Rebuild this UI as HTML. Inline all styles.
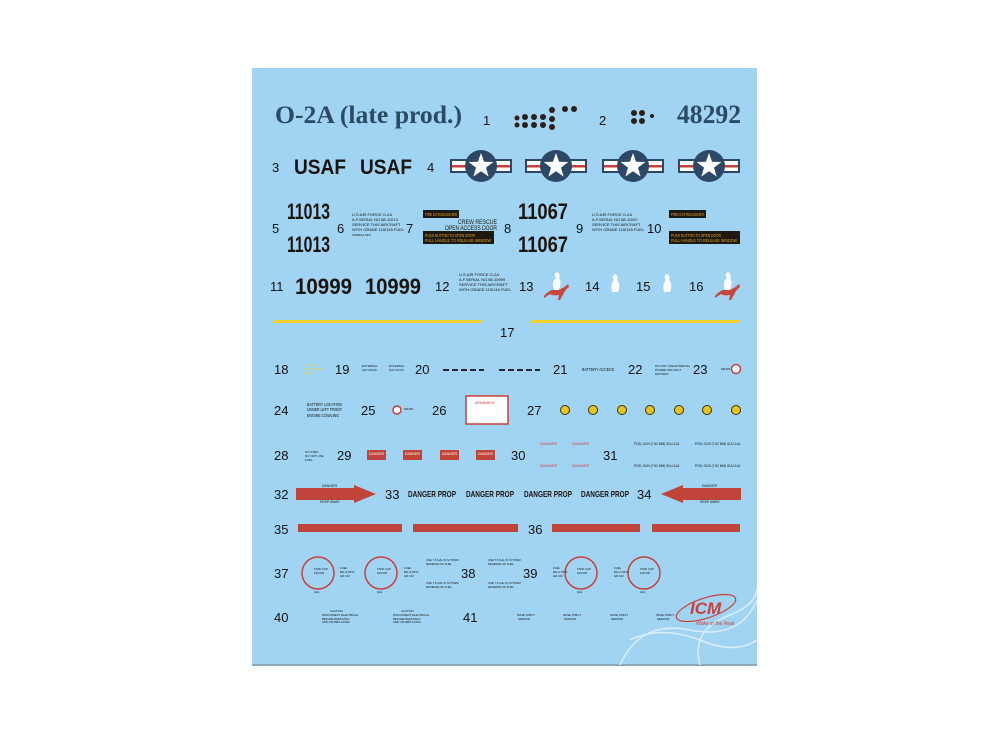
<!DOCTYPE html>
<html><head><meta charset="utf-8"><style>
html,body{margin:0;padding:0;background:#fff;width:1000px;height:750px;overflow:hidden}
svg{display:block}
</style></head><body>
<svg width="1000" height="750" viewBox="0 0 1000 750" xmlns="http://www.w3.org/2000/svg" font-family="Liberation Sans, sans-serif">
<defs>
<g id="roundel">
<rect x="-31" y="-7" width="62" height="14" fill="#2d4866"/>
<rect x="-29" y="-5" width="58" height="10" fill="#fff"/>
<rect x="-29" y="-1" width="58" height="2.5" fill="#c9403a"/>
<circle r="16" fill="#2d4866"/>
<polygon points="0,-13 3.1,-4.2 12.4,-4 5,1.6 7.6,10.5 0,5.2 -7.6,10.5 -5,1.6 -12.4,-4 -3.1,-4.2" fill="#fff"/>
</g>
<g id="kanga">
<path d="M-12,8 Q-6,0 2,2 Q8,0 12,-4 L13,-1 Q9,2 8,5 L4,12 L2,12 L3,7 Q-3,8 -6,6 L-12,10 Z" fill="#c9473c"/>
<path d="M-2,2 Q-5,-6 0,-10 Q-3,-14 1,-16 Q5,-14 3,-10 Q6,-6 3,2 Z" fill="#fff"/>
</g>
<g id="arrow">
<rect x="0" y="-6" width="60" height="12" fill="#c1443a"/>
<polygon points="58,-9 80,0 58,9" fill="#c1443a"/>
</g>
</defs>
<rect x="252" y="68" width="505" height="597" fill="#a0d4f2"/>
<rect x="252" y="664" width="505" height="2" fill="#8aaabb"/>
<g fill="none" stroke="#e2f1fb" stroke-width="1.5" opacity="0.9">
<path d="M620,665 Q640,620 690,630 Q740,640 757,600"/>
<path d="M700,665 Q690,630 730,615 Q755,605 757,590"/>
<path d="M630,640 Q660,625 700,640 Q735,655 757,640"/>
</g>
<text x="275" y="123" font-family="Liberation Serif, serif" font-weight="bold" font-size="25" fill="#2b4a66" textLength="187" lengthAdjust="spacingAndGlyphs">O-2A (late prod.)</text>
<text x="483" y="125" font-size="13" fill="#111">1</text>
<g fill="#2a1f1a">
<circle cx="517" cy="118" r="2.5"/><circle cx="525" cy="117" r="3"/><circle cx="534" cy="117" r="3"/><circle cx="543" cy="117" r="3"/>
<circle cx="517" cy="125" r="2.5"/><circle cx="525" cy="125" r="3"/><circle cx="534" cy="125" r="3"/><circle cx="543" cy="125" r="3"/><circle cx="552" cy="127" r="3"/>
<circle cx="552" cy="110" r="3"/><circle cx="552" cy="119" r="3"/><circle cx="565" cy="109" r="3"/><circle cx="574" cy="109" r="3"/>
<circle cx="634" cy="113" r="3"/><circle cx="642" cy="113" r="3"/><circle cx="634" cy="121" r="3"/><circle cx="642" cy="121" r="3"/><circle cx="652" cy="116" r="2"/>
</g>
<text x="599" y="125" font-size="13" fill="#111">2</text>
<text x="677" y="123" font-family="Liberation Serif, serif" font-weight="bold" font-size="26" fill="#2b4a66" textLength="64" lengthAdjust="spacingAndGlyphs">48292</text>
<text x="272" y="172" font-size="13" fill="#111">3</text>
<text x="294" y="174" font-size="21" font-weight="bold" fill="#1a1410" textLength="52" lengthAdjust="spacingAndGlyphs">USAF</text>
<text x="360" y="174" font-size="21" font-weight="bold" fill="#1a1410" textLength="52" lengthAdjust="spacingAndGlyphs">USAF</text>
<text x="427" y="172" font-size="13" fill="#111">4</text>
<use href="#roundel" x="481" y="166"/><use href="#roundel" x="556" y="166"/><use href="#roundel" x="633" y="166"/><use href="#roundel" x="709" y="166"/>
<g font-size="13" fill="#111">
<text x="272" y="233">5</text><text x="337" y="233">6</text><text x="406" y="233">7</text><text x="504" y="233">8</text><text x="576" y="233">9</text><text x="647" y="233">10</text>
</g>
<g font-size="22" font-weight="bold" fill="#1a1410">
<text x="287" y="219" textLength="43" lengthAdjust="spacingAndGlyphs">11013</text><text x="287" y="252" textLength="43" lengthAdjust="spacingAndGlyphs">11013</text>
<text x="518" y="219" textLength="50" lengthAdjust="spacingAndGlyphs">11067</text><text x="518" y="252" textLength="50" lengthAdjust="spacingAndGlyphs">11067</text>
</g>
<g font-size="4" fill="#111">
<text x="352" y="216">U.S.AIR FORCE O-2A</text><text x="352" y="221">A.F.SERIAL NO.68-11013</text><text x="352" y="226">SERVICE THIS AIRCRAFT</text><text x="352" y="231">WITH GRADE 115/145 FUEL</text><text x="352" y="236" font-size="2.5">INTERNAL INFO</text>
<text x="592" y="216">U.S.AIR FORCE O-2A</text><text x="592" y="221">A.F.SERIAL NO.68-11067</text><text x="592" y="226">SERVICE THIS AIRCRAFT</text><text x="592" y="231">WITH GRADE 115/145 FUEL</text>
<text x="459" y="276">U.S.AIR FORCE O-2A</text><text x="459" y="281">A.F.SERIAL NO.68-10999</text><text x="459" y="286">SERVICE THIS AIRCRAFT</text><text x="459" y="291">WITH GRADE 115/145 FUEL</text>
</g>
<rect x="423" y="210" width="36" height="8" fill="#1e1a12"/><text x="425" y="216" font-size="4.5" fill="#e0a020" textLength="32" lengthAdjust="spacingAndGlyphs">FIRE EXTINGUISHER</text>
<text x="458" y="224" font-size="6.5" fill="#111" textLength="39" lengthAdjust="spacingAndGlyphs">CREW RESCUE</text><text x="445" y="230" font-size="6.5" fill="#111" textLength="52" lengthAdjust="spacingAndGlyphs">OPEN ACCESS DOOR</text>
<rect x="423" y="231" width="71" height="13" fill="#1e1a12"/><text x="425" y="237" font-size="4.5" fill="#e0a020" textLength="50" lengthAdjust="spacingAndGlyphs">PUSH BUTTON TO OPEN DOOR</text><text x="425" y="242" font-size="4.5" fill="#e0a020" textLength="66" lengthAdjust="spacingAndGlyphs">PULL HANDLE TO RELEASE WINDOW</text>
<rect x="669" y="210" width="37" height="8" fill="#1e1a12"/><text x="671" y="216" font-size="4.5" fill="#e0a020" textLength="33" lengthAdjust="spacingAndGlyphs">FIRE EXTINGUISHER</text>
<rect x="669" y="231" width="71" height="13" fill="#1e1a12"/><text x="671" y="237" font-size="4.5" fill="#e0a020" textLength="50" lengthAdjust="spacingAndGlyphs">PUSH BUTTON TO OPEN DOOR</text><text x="671" y="242" font-size="4.5" fill="#e0a020" textLength="66" lengthAdjust="spacingAndGlyphs">PULL HANDLE TO RELEASE WINDOW</text>
<g font-size="13" fill="#111">
<text x="270" y="291">11</text><text x="435" y="291">12</text><text x="519" y="291">13</text><text x="585" y="291">14</text><text x="636" y="291">15</text><text x="689" y="291">16</text>
</g>
<text x="295" y="294" font-size="22" font-weight="bold" fill="#1a1410" textLength="57" lengthAdjust="spacingAndGlyphs">10999</text>
<text x="365" y="294" font-size="22" font-weight="bold" fill="#1a1410" textLength="56" lengthAdjust="spacingAndGlyphs">10999</text>
<use href="#kanga" x="556" y="288"/><use href="#kanga" x="727" y="288"/>
<path d="M612,292 Q610,284 614,280 Q611,276 615,274 Q619,276 617,280 Q621,284 618,292 Z" fill="#fff"/>
<path d="M664,292 Q662,284 666,280 Q663,276 667,274 Q671,276 669,280 Q673,284 670,292 Z" fill="#fff"/>
<rect x="273" y="320" width="209" height="3" fill="#f2cf2a"/><rect x="532" y="320" width="208" height="3" fill="#f2cf2a"/>
<text x="500" y="337" font-size="13" fill="#111">17</text>
<g font-size="13" fill="#111">
<text x="274" y="374">18</text><text x="335" y="374">19</text><text x="415" y="374">20</text><text x="553" y="374">21</text><text x="628" y="374">22</text><text x="693" y="374">23</text>
</g>
<g font-size="3" fill="#e8d020"><text x="305" y="366">NO STEP</text><text x="304" y="370">DO NOT USE</text><text x="304" y="374">FUEL</text></g>
<g font-size="3" fill="#111"><text x="362" y="367">EXTERNAL</text><text x="362" y="371">HAT RACK</text><text x="389" y="367">EXTERNAL</text><text x="389" y="371">HAT RACK</text><text x="655" y="367">DO NOT USE EXTERNAL</text><text x="655" y="371">POWER WITHOUT</text><text x="655" y="375">BATTERY</text><text x="721" y="370">DRAIN</text></g>
<g stroke="#111" stroke-width="1.8"><path d="M443,370h41" stroke-dasharray="6,3"/><path d="M499,370h41" stroke-dasharray="6,3"/></g>
<text x="582" y="371" font-size="4.5" fill="#111" textLength="32" lengthAdjust="spacingAndGlyphs">BATTERY ACCESS</text>
<circle cx="736" cy="369" r="4.5" fill="#fff" stroke="#c9403a" stroke-width="1.5"/>
<g font-size="13" fill="#111">
<text x="274" y="415">24</text><text x="361" y="415">25</text><text x="432" y="415">26</text><text x="527" y="415">27</text>
</g>
<g font-size="4.5" fill="#111"><text x="307" y="406" textLength="35" lengthAdjust="spacingAndGlyphs">BATTERY LOCATION</text><text x="307" y="411" textLength="35" lengthAdjust="spacingAndGlyphs">UNDER LEFT FRONT</text><text x="307" y="417" textLength="32" lengthAdjust="spacingAndGlyphs">ENGINE COWLING</text><text x="404" y="410" font-size="3">DRAIN</text></g>
<circle cx="397" cy="410" r="4" fill="#fff" stroke="#c9403a" stroke-width="1.5"/>
<rect x="466" y="396" width="42" height="28" fill="#fff" stroke="#c9403a" stroke-width="1.5"/>
<text x="475" y="404" font-size="3.5" fill="#c9403a">ARMAMENT</text>
<g fill="#e8c51c" stroke="#3a2e10" stroke-width="1"><circle cx="565" cy="410" r="4.5"/><circle cx="593" cy="410" r="4.5"/><circle cx="622" cy="410" r="4.5"/><circle cx="650" cy="410" r="4.5"/><circle cx="679" cy="410" r="4.5"/><circle cx="707" cy="410" r="4.5"/><circle cx="736" cy="410" r="4.5"/></g>
<g font-size="13" fill="#111">
<text x="274" y="460">28</text><text x="337" y="460">29</text><text x="511" y="460">30</text><text x="603" y="460">31</text>
</g>
<g font-size="3" fill="#111"><text x="305" y="453">NO STEP</text><text x="305" y="457">DO NOT USE</text><text x="305" y="461">FUEL</text></g>
<g fill="#c1443a"><rect x="367" y="450" width="19" height="10"/><rect x="403" y="450" width="19" height="10"/><rect x="440" y="450" width="19" height="10"/><rect x="476" y="450" width="19" height="10"/></g>
<g font-size="3.5" fill="#fff"><text x="369" y="455">DANGER</text><text x="405" y="455">DANGER</text><text x="442" y="455">DANGER</text><text x="478" y="455">DANGER</text></g>
<g font-size="4" fill="#c9403a"><text x="540" y="445">DANGER</text><text x="572" y="445">DANGER</text><text x="540" y="467">DANGER</text><text x="572" y="467">DANGER</text></g>
<g font-size="3.2" fill="#111"><text x="634" y="445">POD, GUN (7.62 MM) SUU-11A</text><text x="695" y="445">POD, GUN (7.62 MM) SUU-11A</text><text x="634" y="467">POD, GUN (7.62 MM) SUU-11A</text><text x="695" y="467">POD, GUN (7.62 MM) SUU-11A</text></g>
<g font-size="13" fill="#111">
<text x="274" y="499">32</text><text x="385" y="499">33</text><text x="637" y="499">34</text>
</g>
<use href="#arrow" x="296" y="494"/>
<use href="#arrow" transform="translate(741,494) scale(-1,1)"/>
<g font-size="3.5" fill="#111"><text x="322" y="487">DANGER</text><text x="320" y="503">KEEP AWAY</text><text x="702" y="487">DANGER</text><text x="700" y="503">KEEP AWAY</text></g>
<g font-size="8.5" font-weight="bold" fill="#1a1410"><text x="408" y="497" textLength="48" lengthAdjust="spacingAndGlyphs">DANGER PROP</text><text x="466" y="497" textLength="48" lengthAdjust="spacingAndGlyphs">DANGER PROP</text><text x="524" y="497" textLength="48" lengthAdjust="spacingAndGlyphs">DANGER PROP</text><text x="581" y="497" textLength="48" lengthAdjust="spacingAndGlyphs">DANGER PROP</text></g>
<g font-size="13" fill="#111"><text x="274" y="534">35</text><text x="528" y="534">36</text></g>
<g fill="#c1443a"><rect x="298" y="524" width="104" height="8"/><rect x="413" y="524" width="105" height="8"/><rect x="552" y="524" width="88" height="8"/><rect x="652" y="524" width="88" height="8"/></g>
<g font-size="13" fill="#111"><text x="274" y="578">37</text><text x="461" y="578">38</text><text x="523" y="578">39</text></g>
<g fill="none" stroke="#c9403a" stroke-width="1.5"><circle cx="318" cy="573" r="16"/><circle cx="381" cy="573" r="16"/><circle cx="581" cy="573" r="16"/><circle cx="644" cy="573" r="16"/></g>
<g font-size="2.8" fill="#111">
<text x="314" y="570">TANK CAP</text><text x="314" y="574">100/130</text><text x="377" y="570">TANK CAP</text><text x="377" y="574">100/130</text><text x="577" y="570">TANK CAP</text><text x="577" y="574">100/130</text><text x="640" y="570">TANK CAP</text><text x="640" y="574">100/130</text>
<text x="314" y="593">GAL</text><text x="377" y="593">GAL</text><text x="577" y="593">GAL</text><text x="640" y="593">GAL</text>
<text x="340" y="569">FUEL</text><text x="340" y="573">MIL-F-5572</text><text x="340" y="577">GR 100</text><text x="404" y="569">FUEL</text><text x="404" y="573">MIL-F-5572</text><text x="404" y="577">GR 100</text>
<text x="553" y="569">FUEL</text><text x="553" y="573">MIL-F-5572</text><text x="553" y="577">GR 100</text><text x="614" y="569">FUEL</text><text x="614" y="573">MIL-F-5572</text><text x="614" y="577">GR 100</text>
<text x="426" y="561">USE 7.5 GAL IN SYSTEM</text><text x="426" y="565">RESERVE OF FUEL</text><text x="426" y="584">USE 7.5 GAL IN SYSTEM</text><text x="426" y="588">RESERVE OF FUEL</text>
<text x="488" y="561">USE 7.5 GAL IN SYSTEM</text><text x="488" y="565">RESERVE OF FUEL</text><text x="488" y="584">USE 7.5 GAL IN SYSTEM</text><text x="488" y="588">RESERVE OF FUEL</text>
</g>
<g font-size="13" fill="#111"><text x="274" y="622">40</text><text x="463" y="622">41</text></g>
<g font-size="2.8" fill="#111">
<text x="330" y="612">CAUTION</text><text x="322" y="616">DISCONNECT ELECTRICAL</text><text x="322" y="620">BEFORE REMOVING</text><text x="322" y="623">AND OR REPLACING</text>
<text x="401" y="612">CAUTION</text><text x="393" y="616">DISCONNECT ELECTRICAL</text><text x="393" y="620">BEFORE REMOVING</text><text x="393" y="623">AND OR REPLACING</text>
<text x="517" y="616">NOSE STRUT</text><text x="518" y="620">SERVICE</text><text x="563" y="616">NOSE STRUT</text><text x="564" y="620">SERVICE</text><text x="610" y="616">NOSE STRUT</text><text x="611" y="620">SERVICE</text><text x="656" y="616">NOSE STRUT</text><text x="657" y="620">SERVICE</text>
</g>
<ellipse cx="706" cy="608" rx="31" ry="10" fill="none" stroke="#c9403a" stroke-width="1.2" transform="rotate(-18 706 608)"/>
<text x="690" y="614" font-size="17" font-weight="bold" font-style="italic" fill="#c9403a">ICM</text>
<text x="696" y="625" font-size="5" font-style="italic" fill="#c9403a">Wake in the Real</text>
</svg>
</body></html>
